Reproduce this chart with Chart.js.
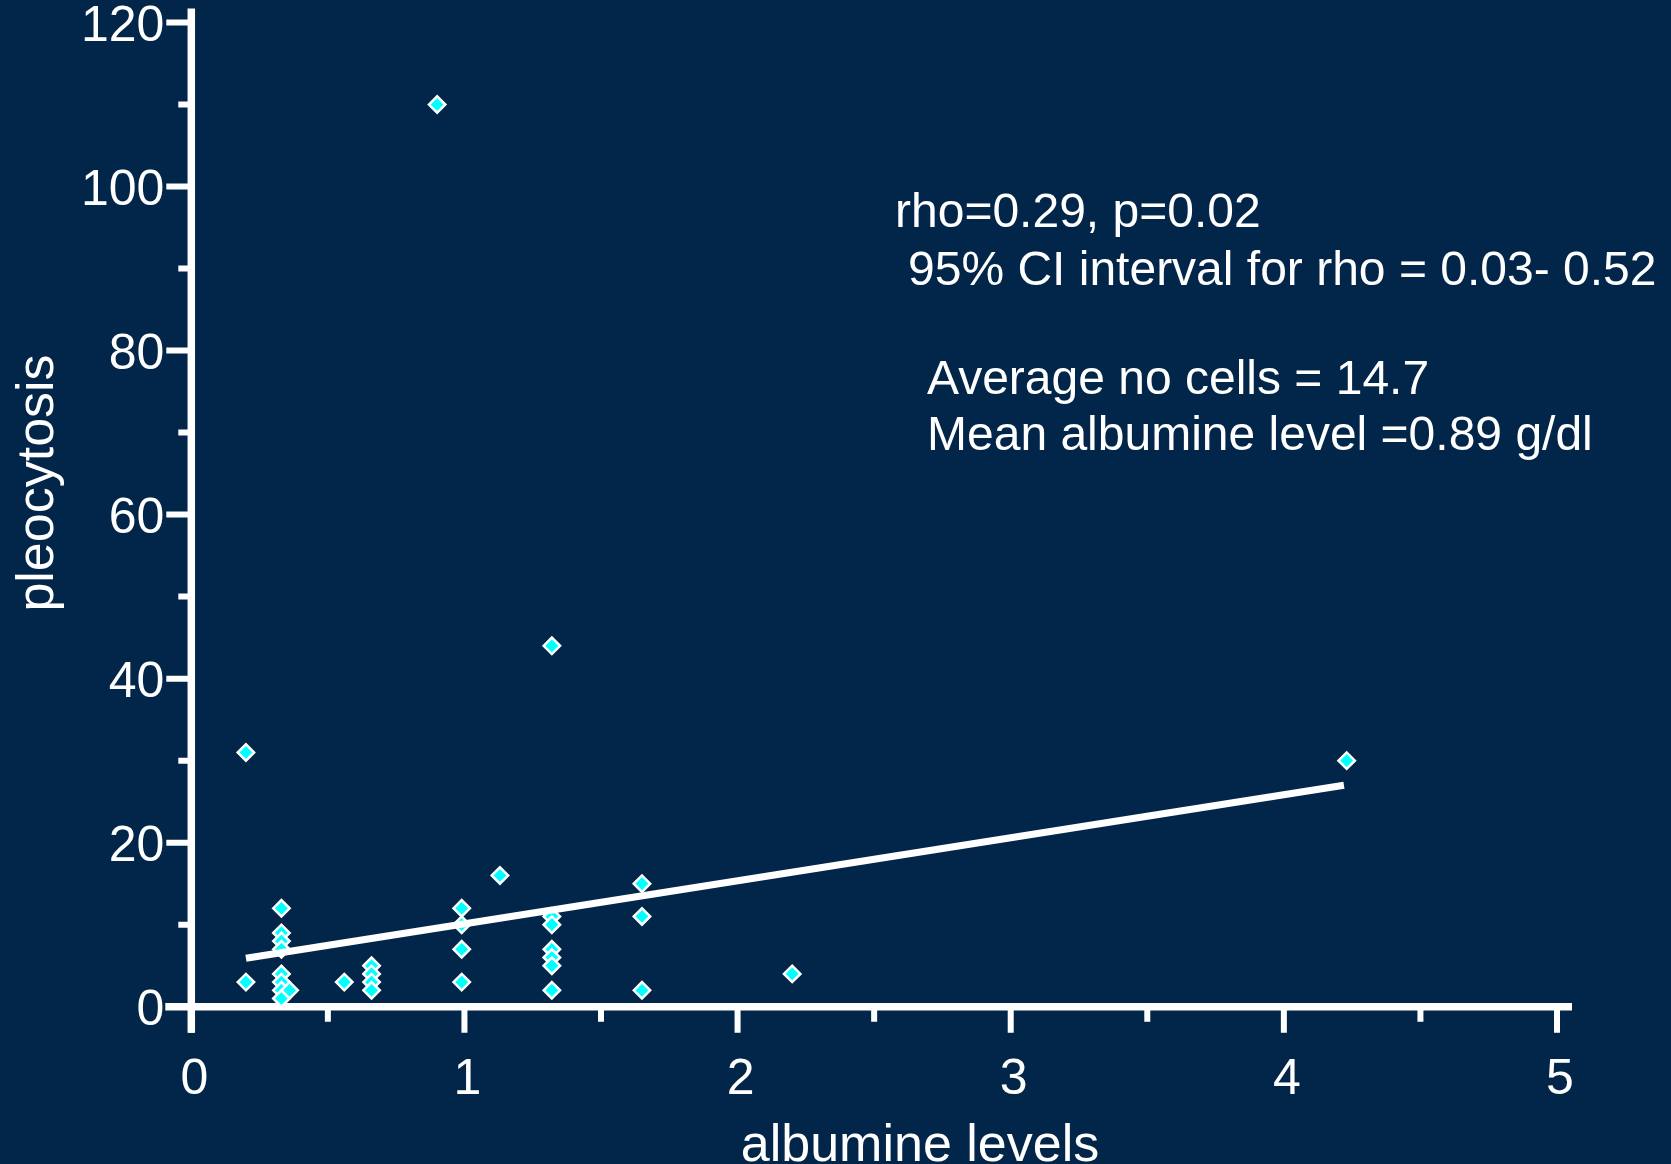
<!DOCTYPE html>
<html>
<head>
<meta charset="utf-8">
<script src="https://cdn.jsdelivr.net/npm/chart.js@4.4.1/dist/chart.umd.min.js"></script>
<style>
  html, body { margin: 0; padding: 0; background: #022649; overflow: hidden; }
  #wrap { width: 1671px; height: 1164px; }
</style>
</head>
<body>
<div id="wrap"><canvas id="scatter" width="1671" height="1164"></canvas></div>
<script>
// values
const albumine = [0.2, 0.2,
  0.33, 0.33, 0.33, 0.33, 0.33, 0.33, 0.33, 0.33, 0.36,
  0.56,
  0.66, 0.66, 0.66, 0.66,
  0.9,
  0.99, 0.99, 0.99, 0.99,
  1.13,
  1.32, 1.32, 1.32, 1.32, 1.32, 1.32, 1.32,
  1.65, 1.65, 1.65,
  2.2,
  4.23];
const cells = [3, 31,
  12, 9, 8, 7, 4, 3, 2, 1, 2,
  3,
  5, 4, 3, 2,
  110,
  12, 10, 7, 3,
  16,
  44, 11, 10, 7, 6, 5, 2,
  15, 11, 2,
  4,
  30];

// fitted line, end points
const trendX = [0.2, 4.22];
const trendY = [5.9, 27.0];

const xMajor = [0, 1, 2, 3, 4, 5];
const xMinor = [0.5, 1.5, 2.5, 3.5, 4.5];
const yMajor = [0, 20, 40, 60, 80, 100, 120];
const yMinor = [10, 30, 50, 70, 90, 110];

const notes = [
  'rho=0.29, p=0.02',
  '95% CI interval for rho = 0.03- 0.52',
  'Average no cells = 14.7',
  'Mean albumine level =0.89 g/dl'
];

const BG = '#022649';
const FONT = '"Liberation Sans", Arial, Helvetica, sans-serif';

const points = albumine.map((a, i) => ({ x: a, y: cells[i] }));
const trend = trendX.map((a, i) => ({ x: a, y: trendY[i] }));

const axisPainter = {
  id: 'axisPainter',
  beforeDraw(chart) {
    const ctx = chart.ctx;
    ctx.save();
    ctx.fillStyle = BG;
    ctx.fillRect(0, 0, chart.width, chart.height);
    ctx.restore();
  },
  beforeDatasetsDraw(chart) {
    const { ctx, scales: { x, y } } = chart;
    const x0 = x.getPixelForValue(0);
    const y0 = y.getPixelForValue(0);
    ctx.save();
    ctx.strokeStyle = '#ffffff';
    ctx.lineCap = 'butt';

    ctx.lineWidth = 7.5;
    ctx.beginPath();
    ctx.moveTo(x0 - 26, y0);
    ctx.lineTo(x.getPixelForValue(5) + 15, y0);
    ctx.moveTo(x0, y0 + 26);
    ctx.lineTo(x0, y.getPixelForValue(120) - 14);
    ctx.stroke();

    ctx.lineWidth = 6;
    ctx.beginPath();
    xMajor.forEach(v => {
      const px = x.getPixelForValue(v);
      ctx.moveTo(px, y0); ctx.lineTo(px, y0 + 26);
    });
    xMinor.forEach(v => {
      const px = x.getPixelForValue(v);
      ctx.moveTo(px, y0); ctx.lineTo(px, y0 + 15);
    });
    yMajor.forEach(v => {
      const py = y.getPixelForValue(v);
      ctx.moveTo(x0, py); ctx.lineTo(x0 - 25, py);
    });
    yMinor.forEach(v => {
      const py = y.getPixelForValue(v);
      ctx.moveTo(x0, py); ctx.lineTo(x0 - 13, py);
    });
    ctx.stroke();
    ctx.restore();
  },
  afterDraw(chart) {
    const ctx = chart.ctx;
    ctx.save();
    ctx.fillStyle = '#ffffff';

    // axis titles
    ctx.font = '52px ' + FONT;
    ctx.textAlign = 'center';
    ctx.textBaseline = 'alphabetic';
    ctx.fillText('albumine levels', 920, 1161);
    ctx.translate(53, 483);
    ctx.rotate(-Math.PI / 2);
    ctx.fillText('pleocytosis', 0, 0);
    ctx.setTransform(1, 0, 0, 1, 0, 0);

    // stats text
    ctx.font = '48px ' + FONT;
    ctx.textAlign = 'left';
    ctx.textBaseline = 'middle';
    const spots = [[895, 214], [908, 272], [927, 381], [927, 437]];
    notes.forEach((t, i) => ctx.fillText(t, spots[i][0], spots[i][1]));
    ctx.restore();
  }
};

new Chart(document.getElementById('scatter'), {
  type: 'scatter',
  data: {
    datasets: [
      {
        data: trend,
        showLine: true,
        borderColor: '#ffffff',
        borderWidth: 7,
        pointRadius: 0,
        order: 0,
        clip: false
      },
      {
        data: points,
        pointStyle: 'rectRot',
        pointRadius: 8.2,
        pointHoverRadius: 8.2,
        borderWidth: 2.5,
        backgroundColor: '#00ffff',
        borderColor: '#ffffff',
        order: 1,
        clip: false
      }
    ]
  },
  options: {
    responsive: false,
    animation: false,
    events: [],
    layout: { padding: { top: 22.5, right: 114, left: 0, bottom: 0 } },
    plugins: { legend: { display: false }, tooltip: { enabled: false } },
    scales: {
      x: {
        type: 'linear',
        min: 0,
        max: 5,
        border: { display: false },
        grid: { drawOnChartArea: false, drawTicks: true, tickLength: 26, tickColor: 'rgba(0,0,0,0)' },
        ticks: { stepSize: 1, color: '#ffffff', padding: 18, labelOffset: 3, maxRotation: 0, font: { family: FONT, size: 50 } },
        afterFit(scale) {
          scale.height = 157.3;
          scale.paddingLeft = 0;
          scale.paddingRight = 0;
        }
      },
      y: {
        type: 'linear',
        min: 0,
        max: 120,
        border: { display: false },
        grid: { drawOnChartArea: false, drawTicks: true, tickLength: 26, tickColor: 'rgba(0,0,0,0)' },
        ticks: { stepSize: 20, color: '#ffffff', padding: 1, labelOffset: 5, font: { family: FONT, size: 50 } },
        afterFit(scale) {
          scale.width = 191.3;
          scale.paddingTop = 0;
          scale.paddingBottom = 0;
        }
      }
    }
  },
  plugins: [axisPainter]
});
</script>
</body>
</html>
